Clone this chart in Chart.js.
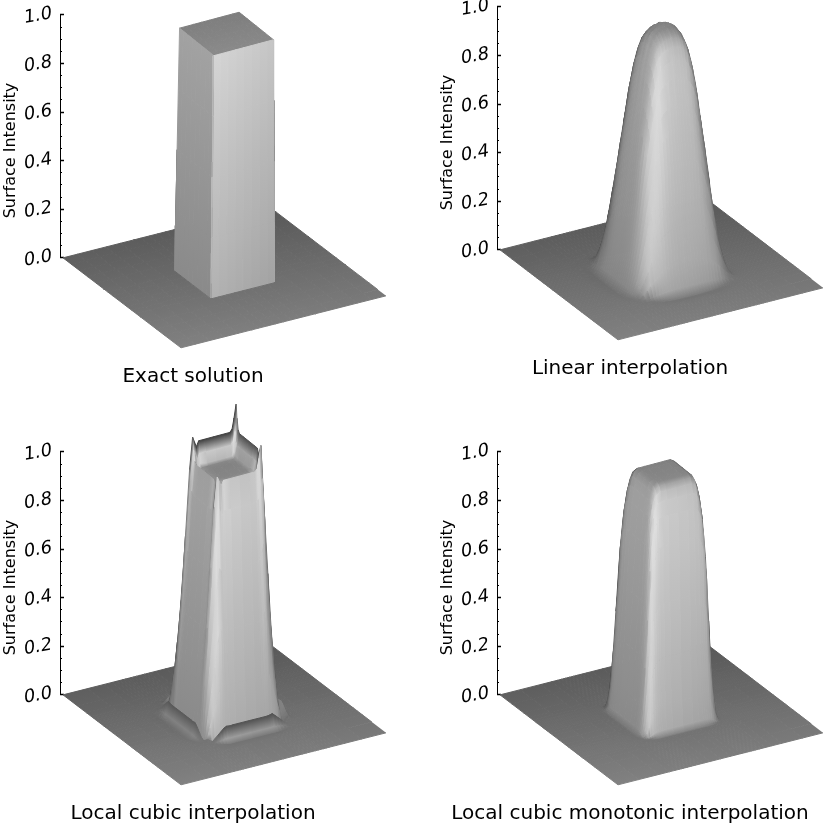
<!DOCTYPE html>
<html>
<head>
  <title>Surface interpolation comparison</title>
  <script src="https://cdn.jsdelivr.net/npm/chart.js"></script>
  <style>
    html, body { margin: 0; background: #fff; overflow: hidden; }
    body { width: 823px; height: 823px; position: relative; }
    canvas { position: absolute; }
  </style>
</head>
<body>
  <canvas id="exactChart" width="386" height="441" style="left:0;top:-54px"></canvas>
  <canvas id="linearChart" width="386" height="441" style="left:437px;top:-62px"></canvas>
  <canvas id="cubicChart" width="386" height="441" style="left:0;top:383px"></canvas>
  <canvas id="monotonicChart" width="386" height="441" style="left:437px;top:383px"></canvas>

  <script>
    // axis
    const majorTicks = [0, 0.2, 0.4, 0.6, 0.8, 1.0];
    const minorTicks = [0.05, 0.1, 0.15, 0.25, 0.3, 0.35, 0.45, 0.5, 0.55, 0.65, 0.7, 0.75, 0.85, 0.9, 0.95];
    const axisLabel = "Surface Intensity";

    // cross sections of each surface, edge of the plane -> centre
    const exactGrid = [0, 0.07, 0.14, 0.21, 0.28, 0.345, 0.3455, 0.346, 0.3465, 0.347, 0.38, 0.42, 0.46, 0.5];
    const exactProfile = [0, 0, 0, 0, 0, 0, 0.25, 0.5, 0.75, 1, 1, 1, 1, 1];

    const linearGrid = [0, 0.1, 0.17, 0.21, 0.235, 0.25, 0.27, 0.29, 0.31, 0.325, 0.34, 0.355, 0.37, 0.385, 0.4, 0.415, 0.43, 0.445, 0.46, 0.475, 0.49, 0.5];
    const linearProfile = [0, 0, 0, -0.008, -0.016, -0.016, 0.015, 0.11, 0.25, 0.37, 0.51, 0.62, 0.72, 0.82, 0.89, 0.94, 0.97, 0.985, 0.995, 1, 1, 1.005];

    const cubicGrid = [0, 0.12, 0.2, 0.24, 0.26, 0.275, 0.29, 0.305, 0.318, 0.33, 0.345, 0.36, 0.375, 0.388, 0.398, 0.408, 0.42, 0.45, 0.5];
    const cubicProfileBack = [0, 0, 0, -0.004, -0.014, 0.006, 0.05, -0.05, -0.02, 0.2, 0.42, 0.66, 0.9, 1.1, 1.05, 1.01, 1, 1, 1];
    const cubicProfileFront = [0, 0, 0, -0.004, -0.014, 0.006, 0.05, -0.05, -0.02, 0.2, 0.42, 0.66, 0.9, 1.02, 1, 0.98, 1, 1, 1];

    const monotonicGrid = [0, 0.1, 0.2, 0.25, 0.28, 0.3, 0.31, 0.32, 0.33, 0.34, 0.35, 0.36, 0.37, 0.38, 0.39, 0.4, 0.42, 0.45, 0.5];
    const monotonicProfile = [0, 0, 0, 0, -0.003, -0.005, 0, 0.02, 0.12, 0.31, 0.53, 0.76, 0.875, 0.935, 0.97, 0.99, 1, 1, 1];

    // view of the plane, in pixels along the two floor edges
    const PX_PER_UNIT = 243;
    const view = { x0: 3, ux: 118, uy: 90, vx: 205, vy: -52, narrow: 0.05, drift: 2 };

    const mirror = (a, f) => a.concat(a.slice(0, -1).reverse().map(f));

    function project(u, v, z) {
      const flat = view.x0 + u * view.ux + v * view.vx;
      const centre = view.x0 + (view.ux + view.vx) / 2;
      return {
        x: flat - view.narrow * z * (flat - centre) + view.drift * z,
        y: z - (u * view.uy + v * view.vy) / PX_PER_UNIT
      };
    }

    // shading: one grey for each face direction, blended by the squared normal,
    // brighter on the ridge facing the viewer and darker towards the left rim
    function shade(u, v, z, dzdu, dzdv, smooth) {
      const du = -dzdu / 1.5, dv = -dzdv / 1.5;
      const len = du * du + dv * dv + 1;
      const uFace = du > 0 ? 170 + 35 * z - 50 * (v - 0.5) : 60;
      const vFace = dv < 0 ? 138 + 24 * z : 75;
      const top = 108 + 34 * (u - 0.5) + 8 * (0.5 - v) + 24 * z;
      const ridge = smooth && du > 0 && dv < 0 ? 80 * du * -dv : 0;
      const rim = du < 0 && dv < 0 ? 90 * du * dv : 0;
      return Math.max(60, Math.min(225, (du * du * uFace + dv * dv * vFace + top + ridge - rim) / len));
    }

    const greyCss = g => { const c = Math.round(g); return `rgb(${c},${c},${c})`; };

    // fill of one cell: a gradient between two opposite edges, built through the scales
    function cellPaint(chart, cell) {
      if (cell.paint) return cell.paint;
      const { x: xs, y: ys } = chart.scales;
      const px = cell.corners.map(p => ({ x: xs.getPixelForValue(p.x), y: ys.getPixelForValue(p.y) }));
      const g = cell.greys;
      // the scales have no size yet on the first pass through the options
      if (!px.every(p => isFinite(p.x) && isFinite(p.y))) return greyCss((g[0] + g[1] + g[2] + g[3]) / 4);

      const alongU = Math.abs(g[1] + g[2] - g[0] - g[3]) >= Math.abs(g[2] + g[3] - g[0] - g[1]);
      const edge = alongU ? [px[0], px[3], px[1], px[2]] : [px[0], px[1], px[3], px[2]];
      const from = alongU ? (g[0] + g[3]) / 2 : (g[0] + g[1]) / 2;
      const to = alongU ? (g[1] + g[2]) / 2 : (g[2] + g[3]) / 2;
      const ex = edge[1].x - edge[0].x, ey = edge[1].y - edge[0].y;
      const len = Math.hypot(ex, ey) || 1;
      const nx = -ey / len, ny = ex / len;
      const dist = (edge[2].x + edge[3].x - edge[0].x - edge[1].x) / 2 * nx + (edge[2].y + edge[3].y - edge[0].y - edge[1].y) / 2 * ny;
      if (Math.abs(dist) < 0.01) {
        cell.paint = greyCss((from + to) / 2);
        return cell.paint;
      }
      const grad = chart.ctx.createLinearGradient(edge[0].x, edge[0].y, edge[0].x + nx * dist, edge[0].y + ny * dist);
      grad.addColorStop(0, greyCss(from));
      grad.addColorStop(1, greyCss(to));
      cell.paint = grad;
      return grad;
    }

    function surfaceDatasets(gridU, gridV, profileU, profileV, smooth) {
      const nu = gridU.length, nv = gridV.length;
      const height = (i, j) => profileU[i] * profileV[j];
      const slopeU = (i, j) => (height(i + 1, j) + height(i + 1, j + 1) - height(i, j) - height(i, j + 1)) / (2 * (gridU[i + 1] - gridU[i]));
      const slopeV = (i, j) => (height(i, j + 1) + height(i + 1, j + 1) - height(i, j) - height(i + 1, j)) / (2 * (gridV[j + 1] - gridV[j]));
      // slope at a grid point is the mean of the cells around it
      const pointSlope = (fn, i, j) => {
        let sum = 0, n = 0;
        for (let a = Math.max(i - 1, 0); a <= Math.min(i, nu - 2); a++) {
          for (let b = Math.max(j - 1, 0); b <= Math.min(j, nv - 2); b++) { sum += fn(a, b); n++; }
        }
        return sum / n;
      };

      const cells = [];
      for (let i = 0; i < nu - 1; i++) {
        // far edge first, so nearer cells paint over it
        for (let j = nv - 2; j >= 0; j--) {
          const ids = [[i, j], [i + 1, j], [i + 1, j + 1], [i, j + 1]];
          const corners = ids.map(([a, b]) => project(gridU[a], gridV[b], height(a, b)));

          // drop the faces turned away from the viewer
          let area = 0;
          corners.forEach((p, k) => {
            const q = corners[(k + 1) % 4];
            area += p.x * q.y - q.x * p.y;
          });
          if (area * PX_PER_UNIT < 0.01) continue;

          const greys = ids.map(([a, b]) => shade(gridU[a], gridV[b], height(a, b),
            smooth ? pointSlope(slopeU, a, b) : slopeU(i, j),
            smooth ? pointSlope(slopeV, a, b) : slopeV(i, j), smooth));
          const cell = { corners, greys, paint: null };
          cells.push({
            data: corners.concat([corners[0]]),
            fill: "shape",
            backgroundColor: c => cellPaint(c.chart, cell),
            borderColor: c => cellPaint(c.chart, cell),
            borderWidth: 1,
            pointRadius: 0,
            parsing: false
          });
        }
      }
      // chart.js paints the first dataset last
      return cells.reverse();
    }

    // tick labels lean and tilt in the original, the scale's own labels do not do both
    const slantedTicks = {
      id: "slantedTicks",
      afterDraw(chart) {
        const scale = chart.scales.y, ctx = chart.ctx;
        ctx.save();
        ctx.font = "18px 'DejaVu Sans'";
        ctx.fillStyle = "#000";
        ctx.textAlign = "right";
        ctx.textBaseline = "middle";
        scale.ticks.forEach(t => {
          ctx.save();
          ctx.translate(scale.right - 8, scale.getPixelForValue(t.value) - 1.5);
          ctx.rotate(-10 * Math.PI / 180);
          ctx.transform(1, 0, -0.2, 1, 0, 0);
          ctx.fillText(t.value.toFixed(1), 0, 0);
          ctx.restore();
        });
        ctx.restore();
      }
    };

    function drawPanel(id, title, gridU, gridV, profileU, profileV, smooth) {
      const spine = {
        data: [{ x: 0, y: 0 }, { x: 0, y: 1 }],
        borderColor: "#000",
        borderWidth: 2,
        pointRadius: 0,
        parsing: false
      };
      new Chart(document.getElementById(id), {
        type: "line",
        data: { datasets: [spine].concat(surfaceDatasets(gridU, gridV, profileU, profileV, smooth)) },
        plugins: [slantedTicks],
        options: {
          responsive: false,
          animation: false,
          events: [],
          layout: { padding: 0, autoPadding: false },
          plugins: {
            legend: { display: false },
            tooltip: { enabled: false },
            title: {
              display: true,
              text: title,
              position: "bottom",
              color: "#000",
              font: { family: "'DejaVu Sans'", size: 20, weight: "normal", lineHeight: "20px" },
              padding: { top: 12, bottom: 0 }
            }
          },
          scales: {
            x: { type: "linear", display: false, min: 0, max: 326 },
            y: {
              type: "linear",
              position: "left",
              weight: 1,
              min: -0.4,
              max: 1.284,
              afterFit: s => { s.width = 60; },
              afterBuildTicks: s => { s.ticks = majorTicks.map(value => ({ value })); },
              border: { display: false },
              grid: { drawOnChartArea: false, tickLength: -4, tickColor: "#000", tickWidth: 1.5 },
              ticks: { display: false },
              title: {
                display: true,
                text: axisLabel,
                color: "#000",
                font: { family: "'DejaVu Sans'", size: 16 },
                padding: { top: 1, bottom: 0 }
              }
            },
            yMinor: {
              type: "linear",
              position: "left",
              weight: 0,
              min: -0.4,
              max: 1.284,
              afterFit: s => { s.width = 0; },
              afterBuildTicks: s => { s.ticks = minorTicks.map(value => ({ value })); },
              border: { display: false },
              grid: { drawOnChartArea: false, tickLength: -2, tickColor: "#000", tickWidth: 1 },
              ticks: { display: false }
            }
          }
        }
      });
    }

    const exactAxis = mirror(exactGrid, g => 1 - g);
    const exactZ = mirror(exactProfile, z => z);
    drawPanel("exactChart", "Exact solution", exactAxis, exactAxis, exactZ, exactZ, false);

    const linearAxis = mirror(linearGrid, g => 1 - g);
    const linearZ = mirror(linearProfile, z => z);
    drawPanel("linearChart", "Linear interpolation", linearAxis, linearAxis, linearZ, linearZ, true);

    // the ringing is not the same on both sides of the column
    const cubicAxis = mirror(cubicGrid, g => 1 - g);
    const cubicU = cubicProfileBack.concat(cubicProfileFront.slice(0, -1).reverse());
    const cubicV = cubicU.slice().reverse();
    drawPanel("cubicChart", "Local cubic interpolation", cubicAxis, cubicAxis, cubicU, cubicV, true);

    const monotonicAxis = mirror(monotonicGrid, g => 1 - g);
    const monotonicZ = mirror(monotonicProfile, z => z);
    drawPanel("monotonicChart", "Local cubic monotonic interpolation", monotonicAxis, monotonicAxis, monotonicZ, monotonicZ, true);
  </script>
</body>
</html>
